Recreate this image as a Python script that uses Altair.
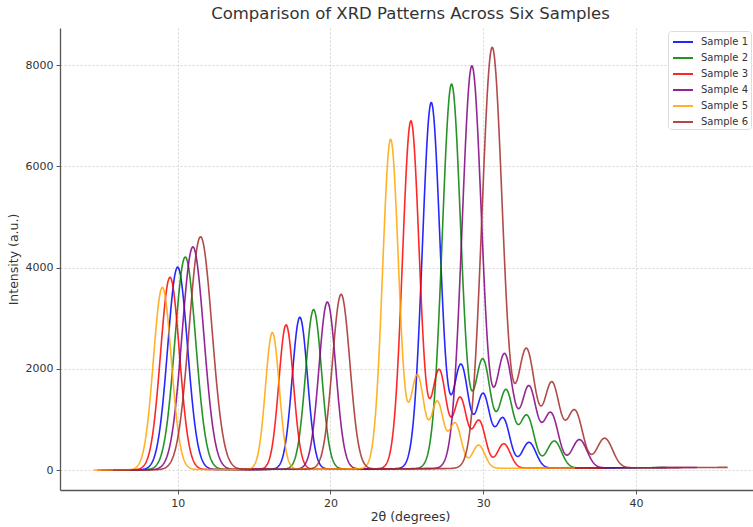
import numpy as np
import pandas as pd
import altair as alt

# ---- data ----
sample_names = ["Sample 1", "Sample 2", "Sample 3", "Sample 4", "Sample 5", "Sample 6"]
sample_colors = ["#0000ff", "#008000", "#ff0000", "#800080", "#ffa500", "#a52a2a"]
position_scale = [1.00, 1.05, 0.95, 1.10, 0.90, 1.15]
intensity_scale = [1.00, 1.05, 0.95, 1.10, 0.90, 1.15]

# reference pattern (Sample 1) peaks
peak_centers = [10.0, 18.0, 26.6, 28.55, 30.0, 31.3, 33.0]
peak_heights = [4000, 3000, 7230, 2030, 1440, 980, 510]
peak_widths = [0.65, 0.50, 0.58, 0.50, 0.45, 0.45, 0.45]

two_theta_start = 5.0
two_theta_end = 40.0
background_start = 0.0
background_end = 45.0

x_ticks = [10, 20, 30, 40]
y_ticks = [0, 2000, 4000, 6000, 8000]

# ---- build table ----
base_x = np.linspace(two_theta_start, two_theta_end, 1400)
base_y = np.interp(base_x, [two_theta_start, two_theta_end], [background_start, background_end])
for c, h, w in zip(peak_centers, peak_heights, peak_widths):
    base_y = base_y + h * np.exp(-((base_x - c) ** 2) / (2 * w ** 2))

frames = []
for name, ps, isc in zip(sample_names, position_scale, intensity_scale):
    frames.append(pd.DataFrame({
        "x": np.round(base_x * ps, 4),
        "y": np.round(base_y * isc, 2),
        "sample": name,
    }))
df = pd.concat(frames, ignore_index=True)

FONT = "DejaVu Sans"

chart = alt.Chart(df).mark_line(strokeWidth=1.6, opacity=0.85, clip=True).encode(
    x=alt.X("x:Q",
            scale=alt.Scale(domain=[2.3, 47.66], nice=False, zero=False),
            axis=alt.Axis(values=x_ticks, title="2θ (degrees)", format="d",
                          titleX=350, titlePadding=2)),
    y=alt.Y("y:Q",
            scale=alt.Scale(domain=[-395, 8731], nice=False, zero=False),
            axis=alt.Axis(values=y_ticks, title="Intensity (a.u.)", format="d",
                          titlePadding=5)),
    color=alt.Color("sample:N",
                    scale=alt.Scale(domain=sample_names, range=sample_colors),
                    legend=alt.Legend(title=None, orient="none", legendX=608, legendY=3,
                                      symbolType="M-1.25,0L1.25,0", symbolSize=256,
                                      symbolStrokeWidth=2, symbolOpacity=0.85,
                                      symbolFillColor="transparent", symbolOffset=4,
                                      labelFontSize=10, labelFont=FONT, labelColor="#333333",
                                      labelOffset=9, rowPadding=2, padding=2,
                                      strokeColor="#dddddd",
                                      fillColor="#ffffff", cornerRadius=3)),
).properties(
    width=693,
    height=462,
    title=alt.TitleParams("Comparison of XRD Patterns Across Six Samples",
                          font=FONT, fontSize=16.5, fontWeight="normal", color="#333333",
                          dx=4, offset=6),
    autosize=alt.AutoSizeParams(type="none"),
    padding={"left": 60, "top": 28, "right": 0, "bottom": 37},
).configure_view(
    stroke=None
).configure_axis(
    labelFont=FONT, titleFont=FONT, labelFontSize=11, titleFontSize=12.5,
    labelColor="#333333", titleColor="#333333", titleFontWeight="normal",
    domainColor="#555555", domainWidth=1.3, tickColor="#555555", tickSize=4,
    gridColor="#cccccc", gridDash=[2, 2], gridWidth=0.8, labelPadding=3,
)

chart.save("out.html", embed_options={"renderer": "svg", "actions": False})
